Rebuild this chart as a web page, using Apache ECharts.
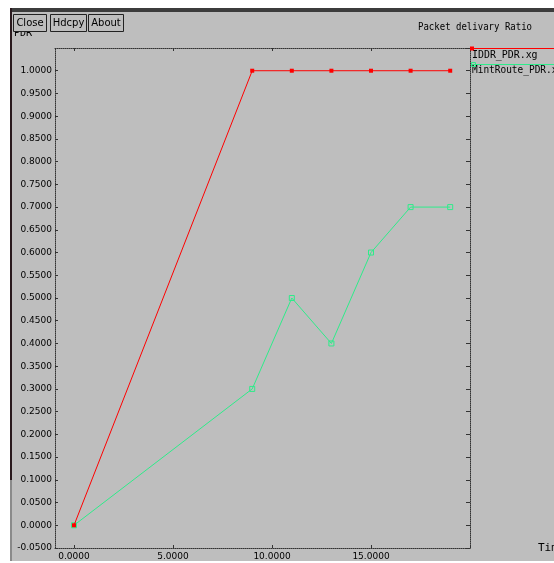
<!DOCTYPE html>
<html>
<head>
<meta charset="utf-8">
<script src="https://cdn.jsdelivr.net/npm/echarts@6/dist/echarts.min.js"></script>
<style>
html,body{margin:0;padding:0;background:#fff;}
#c{width:554px;height:563px;}
</style>
</head>
<body>
<div id="c"></div>
<script>
// ---- data ----
const times = [0, 9, 11, 13, 15, 17, 19];
const iddrPdr = [0, 1, 1, 1, 1, 1, 1];
const mintRoutePdr = [0, 0.3, 0.5, 0.4, 0.6, 0.7, 0.7];
const xLabelValues = [0, 5, 10, 15];
const xTickValues = [0, 5, 10, 15, 20];
const seriesNames = ['IDDR_PDR.xg', 'MintRoute_PDR.xg'];
const chartTitle = 'Packet delivary Ratio';
const yName = 'PDR';
const xName = 'Time';

const RED = '#ff0000';
const GREEN = '#2eec8a';
const BG = '#bebebe';
const FONT = 'DejaVu Sans';
const MONO = 'DejaVu Sans Mono';

const chart = echarts.init(document.getElementById('c'), null, {renderer: 'canvas'});

const dotted = {color: '#333', type: [1, 1], width: 1};
const fmt = v => v.toFixed(4);

function button(x, w, label) {
  return [
    {type: 'rect', z: 50, shape: {x: x + 0.5, y: 14.5, width: w, height: 17},
     style: {fill: BG, stroke: '#222', lineWidth: 1}},
    {type: 'text', z: 51, x: x + w / 2 + 0.5, y: 23,
     style: {text: label, fill: '#000', font: '10px "' + FONT + '"', align: 'center', verticalAlign: 'middle'}}
  ];
}

const option = {
  animation: false,
  backgroundColor: '#ffffff',
  grid: {left: 55, top: 48, right: 84, bottom: 15, containLabel: false},
  xAxis: [
    {type: 'value', position: 'bottom', min: -0.96, max: 20,
     axisLine: {show: true, onZero: false, lineStyle: dotted},
     axisTick: {show: true, inside: true, length: 3, customValues: xTickValues, lineStyle: {color: '#333'}},
     axisLabel: {show: true, customValues: xLabelValues, formatter: fmt, margin: 4,
                 color: '#000', fontFamily: FONT, fontSize: 9},
     splitLine: {show: false}},
    {type: 'value', position: 'top', min: -0.96, max: 20,
     axisLine: {show: true, onZero: false, lineStyle: dotted},
     axisTick: {show: true, inside: true, length: 3, customValues: xTickValues, lineStyle: {color: '#333'}},
     axisLabel: {show: false},
     splitLine: {show: false}}
  ],
  yAxis: [
    {type: 'value', position: 'left', min: -0.05, max: 1.05, interval: 0.05,
     axisLine: {show: true, onZero: false, lineStyle: dotted},
     axisTick: {show: true, inside: true, length: 3, lineStyle: {color: '#333'}},
     axisLabel: {show: true, formatter: fmt, margin: 3, showMaxLabel: false,
                 color: '#000', fontFamily: FONT, fontSize: 9},
     splitLine: {show: false}},
    {type: 'value', position: 'right', min: -0.05, max: 1.05, interval: 0.05,
     axisLine: {show: true, onZero: false, lineStyle: dotted},
     axisTick: {show: true, inside: true, length: 4, lineStyle: {color: '#333'}},
     axisLabel: {show: false},
     splitLine: {show: false}}
  ],
  series: [
    {name: seriesNames[0], type: 'line', xAxisIndex: 0, yAxisIndex: 0,
     data: times.map((t, i) => [t, iddrPdr[i]]),
     symbol: 'rect', symbolSize: 4, showAllSymbol: true,
     lineStyle: {color: RED, width: 1}, itemStyle: {color: RED}, z: 3},
    {name: seriesNames[1], type: 'line', xAxisIndex: 0, yAxisIndex: 0,
     data: times.map((t, i) => [t, mintRoutePdr[i]]),
     symbol: 'rect', symbolSize: 5, showAllSymbol: true,
     lineStyle: {color: GREEN, width: 1},
     itemStyle: {color: 'rgba(0,0,0,0)', borderColor: GREEN, borderWidth: 1}, z: 2}
  ],
  graphic: [
    {type: 'rect', z: -100, silent: true, shape: {x: 10, y: 8, width: 544, height: 553}, style: {fill: BG}},
    {type: 'rect', z: -99, silent: true, shape: {x: 10, y: 8, width: 544, height: 4}, style: {fill: '#3c3c3c'}},
    {type: 'rect', z: -99, silent: true, shape: {x: 10, y: 8, width: 2, height: 472}, style: {fill: '#2a1a1e'}},
    {type: 'rect', z: -99, silent: true, shape: {x: 10, y: 480, width: 2, height: 81}, style: {fill: '#8a8a8a'}},
    {type: 'text', z: 10, x: 14, y: 33,
     style: {text: yName, fill: '#000', font: '10px "' + MONO + '"', align: 'left', verticalAlign: 'middle'}},
    ...button(13, 33, 'Close'),
    ...button(50, 36, 'Hdcpy'),
    ...button(88, 35, 'About'),
    {type: 'text', z: 10, x: 418, y: 27, scaleX: 0.82,
     style: {text: chartTitle, fill: '#000', font: '11px "' + MONO + '"', align: 'left', verticalAlign: 'middle'}},
    {type: 'text', z: 10, x: 538, y: 548,
     style: {text: xName, fill: '#000', font: '11px "' + MONO + '"', align: 'left', verticalAlign: 'middle'}},
    // legend
    {type: 'line', z: 10, shape: {x1: 471, y1: 48.5, x2: 554, y2: 48.5}, style: {stroke: RED, lineWidth: 1}},
    {type: 'rect', z: 11, shape: {x: 470, y: 46.5, width: 4, height: 4}, style: {fill: RED}},
    {type: 'text', z: 10, x: 472, y: 55, scaleX: 0.9,
     style: {text: seriesNames[0], fill: '#000', font: '11px "' + MONO + '"', align: 'left', verticalAlign: 'middle'}},
    {type: 'line', z: 10, shape: {x1: 471, y1: 64.5, x2: 554, y2: 64.5}, style: {stroke: GREEN, lineWidth: 1}},
    {type: 'rect', z: 11, shape: {x: 471.5, y: 62.5, width: 4, height: 4}, style: {fill: 'none', stroke: GREEN, lineWidth: 1}},
    {type: 'text', z: 10, x: 472, y: 70, scaleX: 0.86,
     style: {text: seriesNames[1], fill: '#000', font: '11px "' + MONO + '"', align: 'left', verticalAlign: 'middle'}}
  ]
};
chart.setOption(option);
</script>
</body>
</html>
